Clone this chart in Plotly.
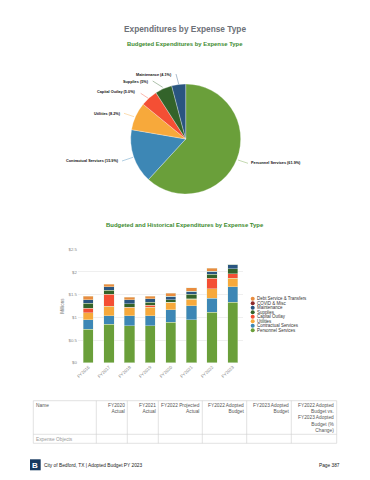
import plotly.graph_objects as go

W, H = 370, 480
FONT = "Liberation Sans"

# ---- data ----
fiscal_years = ["FY2016", "FY2017", "FY2018", "FY2019", "FY2020", "FY2021", "FY2022", "FY2023"]
personnel = [0.735, 0.845, 0.816, 0.816, 0.890, 0.949, 1.110, 1.330]
contractual = [0.215, 0.192, 0.221, 0.221, 0.272, 0.308, 0.310, 0.346]
utilities = [0.150, 0.206, 0.176, 0.191, 0.168, 0.147, 0.205, 0.184]
capital_outlay = [0.105, 0.264, 0.015, 0.044, 0.008, 0.006, 0.235, 0.103]
supplies = [0.105, 0.088, 0.072, 0.058, 0.052, 0.097, 0.090, 0.111]
maintenance = [0.080, 0.081, 0.090, 0.080, 0.080, 0.073, 0.065, 0.096]
covid_misc = [0.0, 0.0, 0.0, 0.0, 0.0, 0.0, 0.0, 0.0]
debt_service = [0.070, 0.054, 0.050, 0.060, 0.060, 0.067, 0.065, 0.0]

pie_labels = ["Personnel Services", "Contractual Services", "Utilities", "Capital Outlay", "Supplies", "Maintenance"]
pie_values = [61.9, 15.9, 8.2, 5.0, 5.0, 4.1]
pie_text = ["Personnel Services (61.9%)", "Contractual Services (15.9%)", "Utilities (8.2%)",
            "Capital Outlay (5.0%)", "Supplies (5%)", "Maintenance (4.1%)"]

y_ticks = [0, 0.5, 1, 1.5, 2, 2.5]
y_labels = ["$0", "$0.5", "$1", "$1.5", "$2", "$2.5"]

table_headers = ["FY2020<br>Actual", "FY2021<br>Actual", "FY2022 Projected<br>Actual", "FY2022 Adopted<br>Budget",
                 "FY2023 Adopted<br>Budget", "FY2022 Adopted<br>Budget vs.<br>FY2023 Adopted<br>Budget (%<br>Change)"]

GREEN, BLUE, YELLOW, RED, DGREEN, NAVY, MAROON, ORANGE = (
    "#6a9f3a", "#3d87b5", "#f7a93b", "#f44f34", "#33632a", "#2a5580", "#8e2a2a", "#e98c3f")
series = [("Personnel Services", personnel, GREEN), ("Contractual Services", contractual, BLUE),
          ("Utilities", utilities, YELLOW), ("Capital Outlay", capital_outlay, RED),
          ("Supplies", supplies, DGREEN), ("Maintenance", maintenance, NAVY),
          ("COVID & Misc", covid_misc, MAROON), ("Debt Service & Transfers", debt_service, ORANGE)]
pie_colors = [GREEN, BLUE, YELLOW, RED, DGREEN, NAVY]


def X(p): return p / W
def Y(p): return 1 - p / H


fig = go.Figure()
fig.add_trace(go.Pie(labels=pie_labels, values=pie_values, sort=False, direction="clockwise", rotation=0,
                     marker=dict(colors=pie_colors, line=dict(color="white", width=0.3)),
                     textinfo="none", showlegend=False,
                     domain=dict(x=[X(130.7), X(240.7)], y=[Y(194), Y(84)])))
for name, vals, color in series:
    fig.add_trace(go.Bar(x=fiscal_years, y=vals, name=name,
                         marker=dict(color=color, line=dict(color="#e4eedd", width=0.4)), showlegend=False))

ann = []
shapes = []


def text(x, y, s, size, color="#555", anchor="left", bold=False, yanchor="middle", align=None):
    ann.append(dict(x=X(x), y=Y(y), xref="paper", yref="paper", text=f"<b>{s}</b>" if bold else s, showarrow=False,
                    xanchor=anchor, yanchor=yanchor, align=align or anchor, borderpad=0, borderwidth=0,
                    font=dict(family=FONT, size=size, color=color)))


text(185, 29.5, "Expenditures by Expense Type", 8.3, "#6d7178", "center", True)
text(185, 44, "Budgeted Expenditures by Expense Type", 5.9, "#3d8b2f", "center", True)
text(185, 224.5, "Budgeted and Historical Expenditures by Expense Type", 5.95, "#3d8b2f", "center", True)

# pie callouts: label anchor, leader start, leader end
callouts = [(251.3, 163.5, "left", (238, 160), (248, 163.3)),
            (119, 161.3, "right", (122, 161), (133, 157.3)),
            (120.7, 114, "right", (124, 113.3), (134, 116.7)),
            (136, 91.7, "right", (140.7, 93.3), (148.3, 98.3)),
            (149, 82.3, "right", (152.7, 81), (162.7, 87.3)),
            (172.3, 74.7, "right", (176, 74), (178.7, 84))]
for (lx, ly, anc, p0, p1), s, c in zip(callouts, pie_text, pie_colors):
    text(lx, ly, s, 3.8, "#111", anc, True)
    shapes.append(dict(type="line", xref="paper", yref="paper", x0=X(p0[0]), y0=Y(p0[1]), x1=X(p1[0]), y1=Y(p1[1]),
                       line=dict(color=c, width=0.4)))

# custom compact legend
for i, (name, vals, color) in enumerate(reversed(series)):
    yy = 298.7 + i * 4.52
    shapes.append(dict(type="circle", xref="paper", yref="paper", x0=X(250.7), x1=X(254.7), y0=Y(yy + 2), y1=Y(yy - 2),
                       fillcolor=color, line=dict(width=0)))
    text(257, yy, name, 4.45, "#333")

# table
tx = [33.3, 96.3, 127.3, 158.3, 202.3, 246.7, 291.3, 336.7]
ty = [400.7, 434.3, 443.3]
GRID = "#cfcfcf"
for x in tx:
    shapes.append(dict(type="line", xref="paper", yref="paper", x0=X(x), x1=X(x), y0=Y(ty[0]), y1=Y(ty[-1]),
                       line=dict(color=GRID, width=0.6)))
for y in ty:
    shapes.append(dict(type="line", xref="paper", yref="paper", x0=X(tx[0]), x1=X(tx[-1]), y0=Y(y), y1=Y(y),
                       line=dict(color=GRID, width=0.6)))
text(35.5, 402.5, "Name", 4.8, "#555", "left", yanchor="top")
for right, h in zip(tx[2:], table_headers):
    text(right - 2.5, 402.5, h, 4.8, "#555", "right", yanchor="top")
text(35.5, 439, "Expense Objects", 4.8, "#999")

# footer
shapes.append(dict(type="rect", xref="paper", yref="paper", x0=X(30), x1=X(40.7), y0=Y(470.3), y1=Y(459.3),
                   fillcolor="#173a60", line=dict(width=0)))
text(35.3, 465, "B", 8, "white", "center", True)
text(44.3, 465, "City of Bedford, TX | Adopted Budget PY 2023", 4.8, "#222")
text(340, 465, "Page 387", 4.8, "#222", "right")

fig.update_layout(
    width=W, height=H, autosize=False, margin=dict(l=0, r=0, t=0, b=0),
    paper_bgcolor="white", plot_bgcolor="white", barmode="stack", bargap=0.5,
    showlegend=False, annotations=ann, shapes=shapes,
    font=dict(family=FONT, size=5, color="#888"),
    xaxis=dict(domain=[X(78), X(243)], tickangle=-45, tickfont=dict(size=4.4, color="#888"), showgrid=False,
               showline=False, ticks="", ticklen=0, automargin=False, fixedrange=True),
    yaxis=dict(domain=[Y(362.7), Y(249.3)], range=[0, 2.5], tickvals=y_ticks, ticktext=y_labels,
               tickfont=dict(size=4.4, color="#888"), gridcolor="#efefef", gridwidth=0.6, zeroline=False,
               showline=False, ticks="", automargin=False,
               title=dict(text="Millions", font=dict(size=4.6, color="#777"), standoff=3), fixedrange=True),
)
fig.write_html("out.html", config=dict(displayModeBar=False),
               post_script="document.body.style.margin='0';document.body.style.overflow='hidden';")
